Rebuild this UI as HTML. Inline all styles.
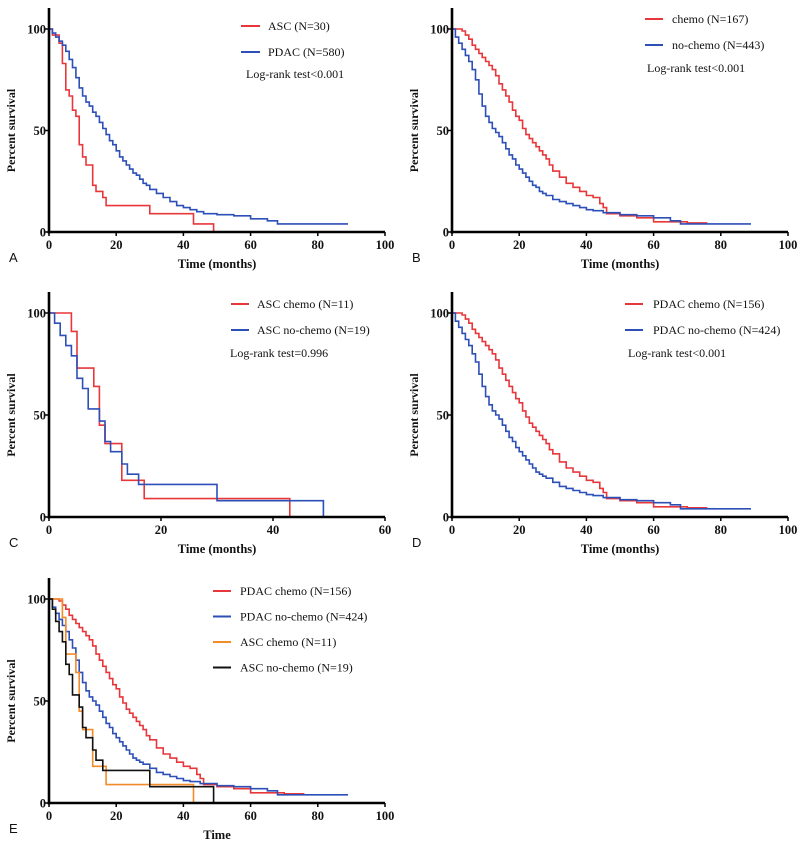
<!DOCTYPE html>
<html><head><meta charset="utf-8"><style>
html,body{margin:0;padding:0;background:#fff;}
svg{display:block;}
text{font-family:"Liberation Serif",serif;fill:#111;}
</style></head><body>
<svg id="c" width="800" height="843"></svg>
<script>
// ---- data (time in months, percent survival) ----
const ascTimes=[0,1,3,4,5,6,7,8,9,10,11,13,14,16,17,30,43,49];
const ascSurv=[100,97,93,83,70,67,60,57,43,37,33,23,20,17,13,9,4,0];
const pdacTimes=[0,1,2,3,4,5,6,7,8,9,10,11,12,13,14,15,16,17,18,19,20,21,22,23,24,25,26,27,28,29,30,32,34,36,38,40,42,44,46,50,55,60,65,68,89];
const pdacSurv=[100,98,96,94,92,89,85,81,76,71,67,64,62,59,57,54,51,48,45,43,40,37,35,33,31,29,28,26,24,23,21,19,17,15,13,12,11,10,9,8.5,8,6.5,5.5,4,4];
const chemoTimes=[0,3,4,5,6,7,8,9,10,11,12,13,14,15,16,17,18,19,20,21,22,23,24,25,26,27,28,29,30,32,34,36,38,40,42,44,45,46,50,55,60,65,70,76];
const chemoSurv=[100,99,97,95,92,90,88,86,84,82,80,77,73,70,67,64,60,57,55,51,48,46,44,42,40,38,36,33,30,27,24,22,20,18,17,14,12,9,8,7,5,5,4.5,4.5];
const noChemoTimes=[0,1,2,3,4,5,6,7,8,9,10,11,12,13,14,15,16,17,18,19,20,21,22,23,24,25,26,27,28,30,32,34,36,38,40,42,45,50,55,60,65,68,89];
const noChemoSurv=[100,96,93,90,87,84,80,75,68,62,57,54,51,49,47,44,41,38,36,33,31,29,27,25,23,22,20,19,18,16,15,14,13,12,11,10.5,9.5,8.5,8,7,5.5,4,4];
const pdacChemoTimes=[0,3,4,5,6,7,8,9,10,11,12,13,14,15,16,17,18,19,20,21,22,23,24,25,26,27,28,29,30,32,34,36,38,40,42,44,45,46,50,55,60,65,70,76];
const pdacChemoSurv=[100,99,97,95,92,90,88,86,84,82,80,77,73,70,67,64,61,58,56,52,49,46,44,42,40,38,36,33,31,27,24,22,20,18,17,14,12,9,8,7,5,5,4.5,4.5];
const pdacNoChemoTimes=[0,1,2,3,4,5,6,7,8,9,10,11,12,13,14,15,16,17,18,19,20,21,22,23,24,25,26,27,28,30,32,34,36,38,40,42,45,50,55,60,65,68,89];
const pdacNoChemoSurv=[100,96,93,90,87,84,80,76,70,64,59,55,52,50,48,45,42,39,37,34,32,30,28,26,24,22,21,20,19,17,15,14,13,12,11,10.5,9.5,8.5,8,7,6,4,4];
const ascChemoTimes=[0,4,5,8,9,10,13,17,43];
const ascChemoSurv=[100,91,73,64,45,36,18,9,0];
const ascNoChemoTimes=[0,1,2,3,4,5,6,7,9,10,11,13,14,16,30,49];
const ascNoChemoSurv=[100,95,89,84,79,68,63,53,47,37,32,26,21,16,8,0];
const yTicks=[0,50,100];
const xTicks100=[0,20,40,60,80,100];
const xTicks60=[0,20,40,60];

const RED="#e8373a",BLUE="#2d4fb8",ORANGE="#f28c28",BLACK="#111";
const NS="http://www.w3.org/2000/svg";
const svg=document.getElementById('c');
function el(tag,attrs,parent){const e=document.createElementNS(NS,tag);for(const k in attrs)e.setAttribute(k,attrs[k]);(parent||svg).appendChild(e);return e;}

const panels=[
 {id:'a',letter:'A',x0:49,x1:385,yT:29,yB:232,xmax:100,xt:xTicks100,title:'Time (months)',
  series:[[ascTimes,ascSurv,RED,'ASC (N=30)'],[pdacTimes,pdacSurv,BLUE,'PDAC (N=580)']],leg:{x:241,len:19,tx:268,y:26,dy:26},logrank:'Log-rank test<0.001',lr:[246,78]},
 {id:'b',letter:'B',x0:452,x1:788,yT:29,yB:232,xmax:100,xt:xTicks100,title:'Time (months)',
  series:[[chemoTimes,chemoSurv,RED,'chemo (N=167)'],[noChemoTimes,noChemoSurv,BLUE,'no-chemo (N=443)']],leg:{x:645,len:18,tx:672,y:19,dy:26},logrank:'Log-rank test<0.001',lr:[647,72]},
 {id:'c',letter:'C',x0:49,x1:385,yT:313,yB:517,xmax:60,xt:xTicks60,title:'Time (months)',
  series:[[ascChemoTimes,ascChemoSurv,RED,'ASC chemo (N=11)'],[ascNoChemoTimes,ascNoChemoSurv,BLUE,'ASC no-chemo (N=19)']],leg:{x:231,len:18,tx:257,y:304,dy:26},logrank:'Log-rank test=0.996',lr:[230,357]},
 {id:'d',letter:'D',x0:452,x1:788,yT:313,yB:517,xmax:100,xt:xTicks100,title:'Time (months)',
  series:[[pdacChemoTimes,pdacChemoSurv,RED,'PDAC chemo (N=156)'],[pdacNoChemoTimes,pdacNoChemoSurv,BLUE,'PDAC no-chemo (N=424)']],leg:{x:625,len:18,tx:653,y:304,dy:26},logrank:'Log-rank test<0.001',lr:[628,357]},
 {id:'e',letter:'E',x0:49,x1:385,yT:599,yB:803,xmax:100,xt:xTicks100,title:'Time',
  series:[[pdacChemoTimes,pdacChemoSurv,RED,'PDAC chemo (N=156)'],[pdacNoChemoTimes,pdacNoChemoSurv,BLUE,'PDAC no-chemo (N=424)'],[ascChemoTimes,ascChemoSurv,ORANGE,'ASC chemo (N=11)'],[ascNoChemoTimes,ascNoChemoSurv,BLACK,'ASC no-chemo (N=19)']],leg:{x:213,len:18,tx:240,y:591,dy:25.5},logrank:null}
];

panels.forEach(p=>{
  const g=el('g',{});
  
  
  const xs=t=>p.x0+(p.x1-p.x0)*t/p.xmax;
  const ys=v=>p.yB-(p.yB-p.yT)*v/100;
  p.series.forEach((s,i)=>{
    const [T,S,col]=s;
    let d='M'+xs(T[0])+','+ys(S[0]);
    for(let k=1;k<T.length;k++){d+=' H'+xs(T[k]).toFixed(1)+' V'+ys(S[k]).toFixed(1);}
    const path=el('path',{d:d,fill:'none',stroke:col,'stroke-width':1.6},g);
    
    
  });
  const ya=el('line',{x1:p.x0,y1:p.yT-21,x2:p.x0,y2:p.yB+1.5,stroke:'#000','stroke-width':2.6},g);
  
  
  const xa=el('line',{x1:p.x0-1.3,y1:p.yB,x2:p.x1,y2:p.yB,stroke:'#000','stroke-width':2.6},g);
  
  
  yTicks.forEach(v=>{
    el('line',{x1:p.x0-4,y1:ys(v),x2:p.x0,y2:ys(v),stroke:'#000','stroke-width':1.5},g);
    const t=el('text',{x:p.x0-3,y:ys(v)+4.5,'text-anchor':'end','font-size':12.5,'font-weight':'bold'},g);
    t.textContent=v;
    
    
  });
  p.xt.forEach(v=>{
    el('line',{x1:xs(v),y1:p.yB,x2:xs(v),y2:p.yB+4,stroke:'#000','stroke-width':1.5},g);
    const t=el('text',{x:xs(v),y:p.yB+17,'text-anchor':'middle','font-size':12.5,'font-weight':'bold'},g);
    t.textContent=v;
    
    
  });
  const yt=el('text',{x:0,y:0,'text-anchor':'middle','font-size':12,'font-weight':'bold',transform:'translate('+(p.x0-34)+','+((p.yT+p.yB)/2)+') rotate(-90)'},g);
  yt.textContent='Percent survival';
  
  
  const xt=el('text',{x:(p.x0+p.x1)/2,y:p.yB+36,'text-anchor':'middle','font-size':12.5,'font-weight':'bold'},g);
  xt.textContent=p.title;
  
  
  const lt=el('text',{x:p.x0-40,y:p.yB+30,'font-size':13},g);
  lt.style.fontFamily='"Liberation Sans",sans-serif';
  lt.textContent=p.letter;
  
  
  p.series.forEach((s,i)=>{
    const y=p.leg.y+i*p.leg.dy;
    const ll=el('line',{x1:p.leg.x,y1:y,x2:p.leg.x+p.leg.len,y2:y,stroke:s[2],'stroke-width':2},g);
    
    
    const tx=el('text',{x:p.leg.tx,y:y+4,'font-size':12},g);
    tx.textContent=s[3];
    
    
  });
  if(p.logrank){
    const lr=el('text',{x:p.lr[0],y:p.lr[1],'font-size':12},g);
    lr.textContent=p.logrank;
    
    
  }
});
</script>
</body></html>
